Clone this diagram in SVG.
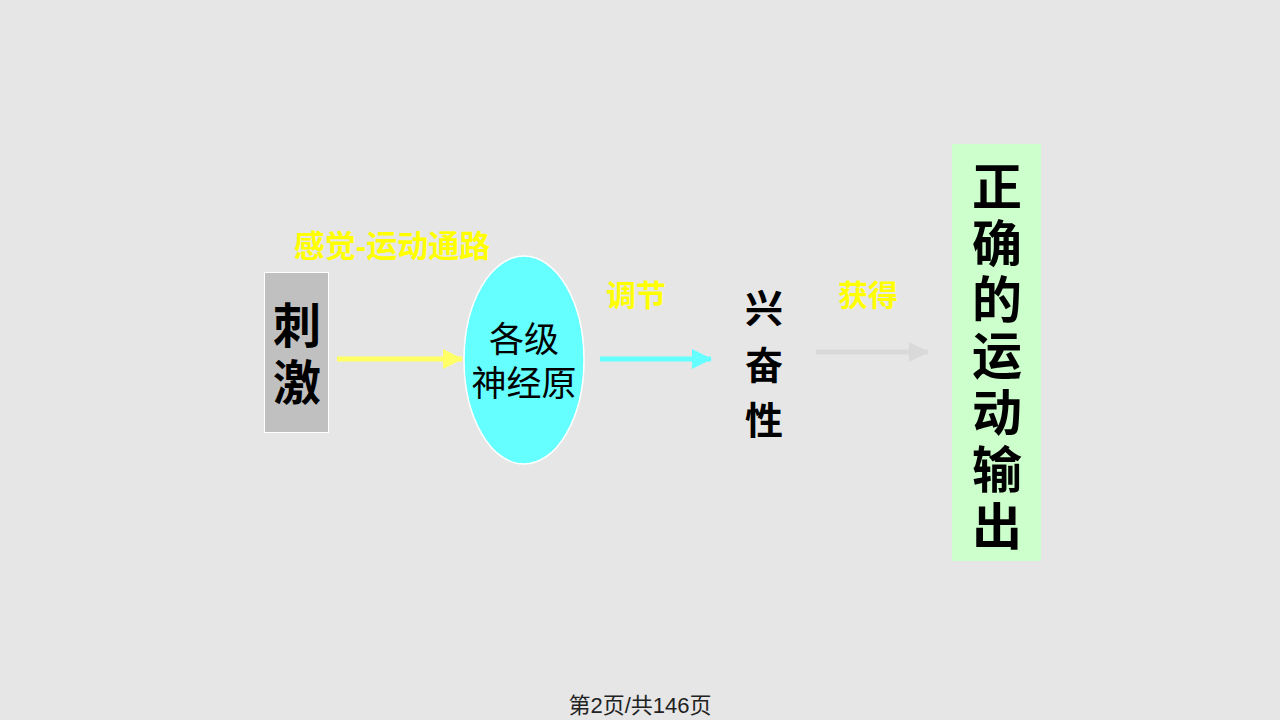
<svg xmlns="http://www.w3.org/2000/svg" width="1280" height="720" viewBox="0 0 1280 720">
<style>
text{font-family:"Liberation Sans","Noto Sans CJK SC",sans-serif;text-anchor:middle}
.b{font-weight:bold}
.lab{fill:#ffff00;font-weight:bold;font-size:30px}
</style>
<defs>
<marker id="ay" markerWidth="4" markerHeight="4" refX="3.8" refY="2" orient="auto" markerUnits="strokeWidth"><path d="M0,0L4,2L0,4z" fill="#ffff66"/></marker>
<marker id="ac" markerWidth="4" markerHeight="4" refX="3.8" refY="2" orient="auto" markerUnits="strokeWidth"><path d="M0,0L4,2L0,4z" fill="#66ffff"/></marker>
<marker id="ag" markerWidth="4" markerHeight="4" refX="3.8" refY="2" orient="auto" markerUnits="strokeWidth"><path d="M0,0L4,2L0,4z" fill="#d9d9d9"/></marker>
</defs>
<rect width="1280" height="720" fill="#e6e6e6"/>
<g id="connectors">
<line x1="337" y1="359" x2="462" y2="359" stroke="#ffff66" stroke-width="5" marker-end="url(#ay)"/>
<line x1="600" y1="359" x2="711" y2="359" stroke="#66ffff" stroke-width="5" marker-end="url(#ac)"/>
<line x1="816" y1="352" x2="928" y2="352" stroke="#d9d9d9" stroke-width="5" marker-end="url(#ag)"/>
</g>
<g id="labels">
<text class="lab" x="392" y="257" font-size="31" style="font-size:31px">感觉-运动通路</text>
<text class="lab" x="636" y="306">调节</text>
<text class="lab" x="868" y="306">获得</text>
</g>
<g id="stimulus">
<rect x="264.5" y="272.5" width="64" height="160" fill="#c0c0c0" stroke="#ffffff" stroke-width="1"/>
<text class="b" x="297" y="343" font-size="48">刺</text>
<text class="b" x="297" y="400" font-size="48">激</text>
</g>
<g id="neurons">
<ellipse cx="524" cy="360" rx="60" ry="104" fill="#66ffff" stroke="#ffffff" stroke-width="1.5"/>
<text x="524" y="352" font-size="35">各级</text>
<text x="524" y="396" font-size="35">神经原</text>
</g>
<g id="excitability">
<text class="b" x="764" y="322" font-size="38">兴</text>
<text class="b" x="764" y="379" font-size="38">奋</text>
<text class="b" x="764" y="434" font-size="38">性</text>
</g>
<g id="output">
<rect x="952" y="144" width="89" height="417" fill="#ccffcc"/>
<text class="b" x="997" y="205" font-size="50">正</text>
<text class="b" x="997" y="262" font-size="50">确</text>
<text class="b" x="997" y="318" font-size="50">的</text>
<text class="b" x="997" y="374" font-size="50">运</text>
<text class="b" x="997" y="431" font-size="50">动</text>
<text class="b" x="997" y="488" font-size="50">输</text>
<text class="b" x="997" y="545" font-size="50">出</text>
</g>
<text x="640" y="713" font-size="22" fill="#222">第2页/共146页</text>
</svg>
